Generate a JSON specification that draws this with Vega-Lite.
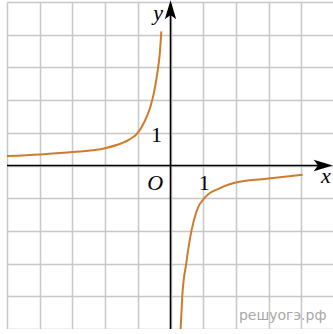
{
  "$schema": "https://vega.github.io/schema/vega-lite/v6.json",
  "width": 327,
  "height": 327,
  "autosize": {"type": "none"},
  "padding": {"left": 7, "top": 2, "right": 0, "bottom": 0},
  "background": "white",
  "config": {"view": {"stroke": null}},
  "encoding": {
    "x": {"field": "x", "type": "quantitative", "scale": {"domain": [-5, 5], "nice": false, "zero": false},
      "axis": {"grid": true, "gridColor": "#c8c8c8", "gridWidth": 1.5, "domain": false, "ticks": false, "labels": false, "title": null, "values": [-5, -4, -3, -2, -1, 0, 1, 2, 3, 4, 5]}},
    "y": {"field": "y", "type": "quantitative", "scale": {"domain": [-5, 5], "nice": false, "zero": false},
      "axis": {"grid": true, "gridColor": "#c8c8c8", "gridWidth": 1.5, "domain": false, "ticks": false, "labels": false, "title": null, "values": [-5, -4, -3, -2, -1, 0, 1, 2, 3, 4, 5]}}
  },
  "layer": [
    {
      "data": {"values": [
        {"x": -5, "x2": 4.75, "y": 0, "y2": 0},
        {"x": 0, "x2": 0, "y": -5, "y2": 4.8}
      ]},
      "mark": {"type": "rule", "color": "black", "strokeWidth": 1.6},
      "encoding": {
        "x2": {"field": "x2"},
        "y2": {"field": "y2"}
      }
    },
    {
      "data": {"values": [{"x": 4.67, "y": 0}]},
      "mark": {"type": "point", "shape": "M1,0 L-1,-0.6 L-0.55,0 L-1,0.6 Z", "size": 361, "filled": true, "color": "black", "opacity": 1}
    },
    {
      "data": {"values": [{"x": 0, "y": 4.76}]},
      "mark": {"type": "point", "shape": "M0,-1 L0.6,1 L0,0.55 L-0.6,1 Z", "size": 361, "filled": true, "color": "black", "opacity": 1}
    },
    {
      "data": {"values": [
        {"branch": "left", "x": -5, "y": 0.29},
        {"branch": "left", "x": -4, "y": 0.34},
        {"branch": "left", "x": -3, "y": 0.41},
        {"branch": "left", "x": -2, "y": 0.53},
        {"branch": "left", "x": -1.5, "y": 0.68},
        {"branch": "left", "x": -1.25, "y": 0.8},
        {"branch": "left", "x": -1, "y": 1.0},
        {"branch": "left", "x": -0.8, "y": 1.33},
        {"branch": "left", "x": -0.63, "y": 1.75},
        {"branch": "left", "x": -0.5, "y": 2.25},
        {"branch": "left", "x": -0.4, "y": 2.85},
        {"branch": "left", "x": -0.33, "y": 3.4},
        {"branch": "left", "x": -0.28, "y": 4.1},
        {"branch": "right", "x": 0.31, "y": -5},
        {"branch": "right", "x": 0.36, "y": -4},
        {"branch": "right", "x": 0.48, "y": -3},
        {"branch": "right", "x": 0.64, "y": -2},
        {"branch": "right", "x": 0.8, "y": -1.39},
        {"branch": "right", "x": 1.08, "y": -0.95},
        {"branch": "right", "x": 1.52, "y": -0.69},
        {"branch": "right", "x": 2.1, "y": -0.5},
        {"branch": "right", "x": 3, "y": -0.4},
        {"branch": "right", "x": 4.04, "y": -0.28}
      ]},
      "mark": {"type": "line", "color": "#d07a2c", "strokeWidth": 2, "interpolate": "monotone"},
      "encoding": {
        "detail": {"field": "branch"},
        "order": {"field": "x", "type": "quantitative"}
      }
    },
    {
      "data": {"values": [
        {"label": "y", "x": -0.38, "y": 4.45},
        {"label": "x", "x": 4.75, "y": -0.54},
        {"label": "O", "x": -0.47, "y": -0.75}
      ]},
      "mark": {"type": "text", "font": "Liberation Serif", "fontSize": 22, "fontStyle": "italic", "align": "center", "baseline": "alphabetic", "color": "black"},
      "encoding": {
        "text": {"field": "label"}
      }
    },
    {
      "data": {"values": [
        {"label": "1", "x": 1.03, "y": -0.75},
        {"label": "1", "x": -0.43, "y": 0.71}
      ]},
      "mark": {"type": "text", "font": "Liberation Serif", "fontSize": 22, "align": "center", "baseline": "alphabetic", "color": "black"},
      "encoding": {
        "text": {"field": "label"}
      }
    },
    {
      "data": {"values": [{"label": "решуогэ.рф", "x": 3.43, "y": -4.74}]},
      "mark": {"type": "text", "font": "DejaVu Sans", "fontSize": 14, "align": "center", "baseline": "alphabetic", "color": "#a8a8a8"},
      "encoding": {
        "text": {"field": "label"}
      }
    }
  ]
}
